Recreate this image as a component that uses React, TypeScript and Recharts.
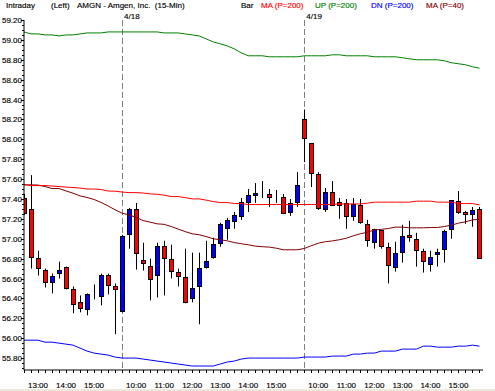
import React from 'react';
import { ComposedChart, Bar, Line, XAxis, YAxis, ReferenceLine } from 'recharts';

const dayTimes = ['09:30','09:45','10:00','10:15','10:30','10:45','11:00','11:15','11:30','11:45','12:00','12:15','12:30','12:45','13:00','13:15','13:30','13:45','14:00','14:15','14:30','14:45','15:00','15:15','15:30','15:45'];
const times = [...dayTimes.slice(12), ...dayTimes, ...dayTimes];
const dates = [
  ...dayTimes.slice(12).map(() => '4/17'),
  ...dayTimes.map(() => '4/18'),
  ...dayTimes.map(() => '4/19'),
];

const opens = [57.41,57.30,56.81,56.69,56.56,56.66,56.72,56.49,56.36,56.29,
  56.44,56.42,56.64,56.52,56.27,57.05,57.30,56.79,56.73,56.64,
  56.93,56.80,56.67,56.62,56.40,56.52,56.72,56.82,56.96,57.11,
  57.18,57.23,57.37,57.44,57.47,57.45,57.41,57.42,57.27,57.37,
  58.20,57.96,57.65,57.30,57.47,57.37,57.36,57.23,57.34,57.15,
  56.97,57.09,56.92,56.72,56.87,57.04,57.00,56.88,56.75,56.85,
  56.90,57.10,57.38,57.27,57.25,57.30];
const highs = [57.45,57.64,56.88,56.70,56.65,56.77,56.72,56.52,56.43,56.45,
  56.54,56.65,56.65,56.55,57.04,57.31,57.36,56.96,56.80,56.96,
  56.98,56.94,56.70,56.90,56.86,56.86,56.98,57.01,57.16,57.21,
  57.27,57.41,57.50,57.56,57.58,57.50,57.49,57.45,57.40,57.67,
  58.30,57.96,57.67,57.51,57.58,57.41,57.40,57.41,57.40,57.19,
  57.10,57.09,56.96,56.97,57.14,57.18,57.06,56.90,56.88,56.90,
  57.09,57.39,57.48,57.28,57.32,57.32];
const lows = [57.24,56.70,56.63,56.51,56.45,56.60,56.49,56.25,56.26,56.23,
  56.39,56.33,56.44,56.04,56.26,56.90,56.69,56.68,56.38,56.41,
  56.43,56.60,56.52,56.35,56.36,56.14,56.70,56.80,56.92,56.99,
  57.10,57.19,57.27,57.36,57.41,57.32,57.36,57.25,57.23,57.32,
  57.77,57.52,57.29,57.27,57.33,57.20,57.10,57.18,57.15,56.92,
  56.90,56.90,56.55,56.67,56.76,56.97,56.72,56.66,56.67,56.72,
  56.76,57.00,57.25,57.15,57.12,56.80];
const closes = [57.26,56.82,56.71,56.56,56.63,56.69,56.50,56.34,56.30,56.44,
  56.44,56.64,56.53,56.49,57.03,57.30,56.86,56.76,56.60,56.93,
  56.81,56.68,56.63,56.36,56.50,56.71,56.78,56.95,57.15,57.19,
  57.24,57.37,57.44,57.46,57.47,57.42,57.41,57.26,57.36,57.54,
  58.01,57.66,57.31,57.47,57.34,57.34,57.23,57.35,57.17,56.99,
  57.10,56.93,56.74,56.86,57.03,57.02,56.89,56.78,56.82,56.87,
  57.08,57.39,57.27,57.25,57.29,56.81];

const ma200 = [57.545,57.535,57.535,57.535,57.53,57.525,57.52,57.515,57.51,57.50,
  57.50,57.495,57.48,57.478,57.47,57.464,57.464,57.46,57.451,57.448,
  57.438,57.424,57.424,57.414,57.401,57.401,57.388,57.374,57.364,57.364,
  57.354,57.354,57.344,57.344,57.344,57.344,57.344,57.344,57.344,57.344,
  57.344,57.344,57.344,57.344,57.344,57.35,57.35,57.35,57.35,57.358,
  57.368,57.368,57.368,57.368,57.368,57.368,57.378,57.378,57.378,57.368,
  57.368,57.368,57.354,57.354,57.354,57.341];
const up200 = [59.08,59.06,59.06,59.05,59.05,59.04,59.05,59.05,59.06,59.07,
  59.07,59.07,59.08,59.08,59.08,59.08,59.08,59.08,59.08,59.08,
  59.07,59.07,59.07,59.06,59.05,59.04,59.01,58.98,58.96,58.94,
  58.91,58.87,58.84,58.84,58.84,58.83,58.83,58.83,58.83,58.83,
  58.84,58.84,58.84,58.84,58.85,58.85,58.84,58.84,58.84,58.84,
  58.83,58.83,58.83,58.83,58.82,58.81,58.80,58.80,58.80,58.80,
  58.79,58.77,58.76,58.75,58.73,58.715];
const dn200 = [55.98,55.98,55.98,55.96,55.96,55.95,55.94,55.93,55.90,55.87,
  55.85,55.84,55.83,55.81,55.80,55.80,55.80,55.79,55.78,55.77,
  55.76,55.75,55.74,55.73,55.72,55.72,55.72,55.72,55.74,55.76,
  55.77,55.79,55.80,55.80,55.80,55.80,55.80,55.80,55.80,55.80,
  55.81,55.81,55.81,55.81,55.82,55.82,55.82,55.84,55.84,55.85,
  55.85,55.87,55.87,55.87,55.89,55.89,55.89,55.92,55.92,55.91,
  55.91,55.91,55.92,55.92,55.93,55.92];
const ma40 = [57.542,57.542,57.54,57.525,57.505,57.505,57.481,57.458,57.431,57.415,
  57.395,57.365,57.33,57.291,57.257,57.24,57.215,57.183,57.167,57.15,
  57.145,57.123,57.097,57.072,57.05,57.04,57.022,57.0,56.99,56.979,
  56.962,56.95,56.939,56.926,56.92,56.916,56.905,56.889,56.889,56.889,
  56.902,56.93,56.955,56.97,56.978,56.99,57.005,57.03,57.05,57.065,
  57.089,57.095,57.103,57.117,57.117,57.11,57.11,57.11,57.113,57.113,
  57.123,57.137,57.157,57.17,57.19,57.195];

const yMajorTicks = [55.8,56.0,56.2,56.4,56.6,56.8,57.0,57.2,57.4,57.6,57.8,58.0,58.2,58.4,58.6,58.8,59.0,59.2];
const Y_DOMAIN: [number, number] = [55.68, 59.2];

const data = times.map((t, i) => ({
  i, t, date: dates[i],
  dayStart: i > 0 && dates[i] !== dates[i - 1],
  open: opens[i], high: highs[i], low: lows[i], close: closes[i],
  ma200: ma200[i], up200: up200[i], dn200: dn200[i], ma40: ma40[i],
}));

const yTicks: number[] = [];
yMajorTicks.forEach((m) => {
  [-0.15, -0.1, -0.05, 0].forEach((d) => {
    const v = Math.round((m + d) * 100) / 100;
    if (v >= 55.7) yTicks.push(v);
  });
});

const xTicks = data.map((d) => d.i);
const dayStarts = data.filter((d) => d.dayStart);

const FONT = "'Liberation Sans', Arial, sans-serif";

const Candle = (props: any) => {
  const { x, y, width, height, payload } = props;
  if (x == null || y == null || !payload) return null;
  const { open, close, high, low } = payload;
  const cx = Math.round(x + width / 2) + 0.5;
  const pix = (v: number) => y + ((high - v) / (high - low)) * height;
  const top = Math.round(pix(Math.max(open, close))) + 0.5;
  const bot = Math.round(pix(Math.min(open, close))) + 0.5;
  const fill = close > open ? '#0000ff' : close < open ? '#ff0000' : '#000000';
  return (
    <g>
      {payload.dayStart && (
        <line x1={cx} x2={cx} y1={pix(Y_DOMAIN[1])} y2={pix(Y_DOMAIN[0])} stroke="#808080" strokeDasharray="6 3" />
      )}
      <line x1={cx} x2={cx} y1={y} y2={y + height} stroke="#000" strokeWidth={1} />
      <rect x={cx - 2} y={top} width={4} height={Math.max(bot - top, 0)} fill={fill} stroke="#000" strokeWidth={1} />
    </g>
  );
};

const YTick = (props: any) => {
  const { x, y, payload } = props;
  const v = payload.value;
  const major = Math.abs(v * 5 - Math.round(v * 5)) < 1e-6;
  const yy = Math.round(y) + 0.5;
  return (
    <g>
      <line x1={x - (major ? 3 : 2)} x2={x} y1={yy} y2={yy} stroke="#000" />
      {major && (
        <text x={x - 2} y={y + 3} textAnchor="end" fontSize={8} fontFamily={FONT} fill="#000" stroke="#000" strokeWidth={0.15}>
          {v.toFixed(2)}
        </text>
      )}
    </g>
  );
};

const XTick = (props: any) => {
  const { x, y, payload } = props;
  const t = times[payload.value];
  const show = t && t.endsWith(':00');
  const xx = Math.round(x) + 0.5;
  return (
    <g>
      <line x1={xx} x2={xx} y1={y} y2={y + 3} stroke="#000" />
      {show && (
        <text x={x} y={y + 18} textAnchor="middle" fontSize={8} fontFamily={FONT} fill="#000" stroke="#000" strokeWidth={0.15}>
          {t}
        </text>
      )}
    </g>
  );
};

const DayLabel = (props: any) => {
  const vb = props.viewBox || {};
  return (
    <text x={vb.x + 2} y={vb.y - 1.5} fontSize={8} fontFamily={FONT} fill="#000" stroke="#000" strokeWidth={0.15}>
      {props.text}
    </text>
  );
};

const header = [
  { text: 'Intraday', x: 6, color: '#000' },
  { text: '(Left)', x: 51, color: '#000' },
  { text: 'AMGN - Amgen, Inc.  (15-Min)', x: 77, color: '#000' },
  { text: 'Bar', x: 241, color: '#000' },
  { text: 'MA (P=200)', x: 261, color: '#ff0000' },
  { text: 'UP (P=200)', x: 315, color: '#008000' },
  { text: 'DN (P=200)', x: 371, color: '#0000ff' },
  { text: 'MA (P=40)', x: 426, color: '#800000' },
];

export default function App() {
  return (
    <div style={{ position: 'absolute', left: 0, top: 0, width: 495, height: 391, background: '#ffffff', overflow: 'hidden' }}>
      <ComposedChart width={495} height={391} data={data} margin={{ top: 20, right: 12, bottom: 0, left: 0 }}>
        <XAxis
          dataKey="i"
          type="number"
          domain={[0, 65.5]}
          allowDataOverflow
          ticks={xTicks}
          interval={0}
          tickSize={0}
          tickMargin={0}
          tickLine={false}
          tick={<XTick />}
          height={21}
          axisLine={{ stroke: '#000' }}
        />
        <YAxis
          type="number"
          domain={Y_DOMAIN}
          allowDataOverflow
          ticks={yTicks}
          interval={0}
          tickSize={0}
          tickMargin={0}
          tickLine={false}
          tick={<YTick />}
          width={24}
          axisLine={{ stroke: '#000' }}
        />
        {dayStarts.map((d) => (
          <ReferenceLine
            key={d.i}
            x={d.i}
            stroke="none"
            label={<DayLabel text={d.date} />}
          />
        ))}
        <Bar
          dataKey={(d: any) => [d.low, d.high]}
          barSize={5}
          shape={<Candle />}
          isAnimationActive={false}
        />
        <Line dataKey="up200" stroke="#008000" strokeWidth={1} dot={false} activeDot={false} isAnimationActive={false} />
        <Line dataKey="dn200" stroke="#0000ff" strokeWidth={1} dot={false} activeDot={false} isAnimationActive={false} />
        <Line dataKey="ma40" stroke="#800000" strokeWidth={1} dot={false} activeDot={false} isAnimationActive={false} />
        <Line dataKey="ma200" stroke="#ff0000" strokeWidth={1} dot={false} activeDot={false} isAnimationActive={false} />
      </ComposedChart>
      <svg width={495} height={12} style={{ position: 'absolute', left: 0, top: 0 }}>
        {header.map((h) => (
          <text key={h.text} x={h.x} y={8} fontSize={8} fontFamily={FONT} fill={h.color} stroke={h.color} strokeWidth={0.15} xmlSpace="preserve">
            {h.text}
          </text>
        ))}
      </svg>
      <div style={{ position: 'absolute', left: 0, top: 389, width: 495, height: 2, background: '#ece9d8' }} />
    </div>
  );
}
